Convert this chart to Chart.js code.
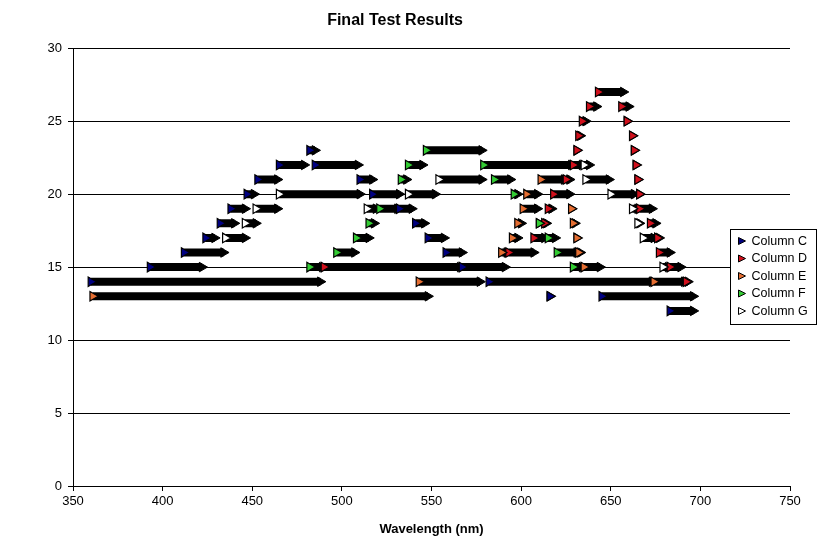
<!DOCTYPE html>
<html lang="en">

<head>
  <meta charset="UTF-8">
  <title>Final Test Results</title>
  <style>
    body { margin: 0; background: #fff; }
  </style>
</head>

<body>
  <canvas id="chart" width="818" height="549"></canvas>

  <script src="https://cdn.jsdelivr.net/npm/chart.js@4/dist/chart.umd.min.js"></script>

  <script>
    // each run: [level, first wavelength, last wavelength]
    const columnC = [
      [23, 482, 485],
      [22, 465, 479], [22, 485, 509],
      [21, 453, 464], [21, 510, 517],
      [20, 447, 451], [20, 517, 532],
      [19, 438, 446], [19, 532, 539],
      [18, 432, 440], [18, 541, 546],
      [17, 424, 429], [17, 548, 557],
      [16, 412, 434], [16, 558, 567],
      [15, 393, 422], [15, 567, 591],
      [14, 360, 488], [14, 582, 673],
      [13, 616, 616], [13, 645, 696],
      [12, 683, 696]
    ]
    const columnD = [
      [27, 643, 657],
      [26, 638, 642], [26, 656, 660],
      [25, 634, 636], [25, 659, 659],
      [24, 632, 633], [24, 662, 662],
      [23, 631, 631], [23, 663, 663],
      [22, 629, 634], [22, 664, 664],
      [21, 625, 627], [21, 665, 665],
      [20, 618, 627], [20, 666, 666],
      [19, 615, 617], [19, 666, 673],
      [18, 613, 614], [18, 672, 675],
      [17, 607, 613], [17, 676, 677],
      [16, 593, 607], [16, 677, 683],
      [15, 490, 566], [15, 683, 689],
      [14, 692, 693]
    ]
    const columnE = [
      [21, 611, 624],
      [20, 603, 609],
      [19, 601, 609], [19, 628, 628],
      [18, 598, 600], [18, 629, 630],
      [17, 595, 598], [17, 631, 631],
      [16, 589, 592], [16, 632, 633],
      [15, 635, 644],
      [14, 543, 577], [14, 674, 691],
      [13, 361, 548]
    ]
    const columnF = [
      [23, 547, 578],
      [22, 537, 545], [22, 579, 628],
      [21, 533, 536], [21, 585, 594],
      [20, 596, 598],
      [19, 521, 531],
      [18, 515, 518], [18, 610, 610],
      [17, 508, 515], [17, 615, 619],
      [16, 497, 507], [16, 620, 631],
      [15, 482, 489], [15, 629, 634]
    ]
    const columnG = [
      [22, 635, 638],
      [21, 554, 578], [21, 636, 649],
      [20, 465, 510], [20, 537, 552], [20, 650, 663],
      [19, 452, 464], [19, 514, 519], [19, 662, 665],
      [18, 446, 452], [18, 665, 666],
      [17, 435, 446], [17, 668, 674],
      [15, 679, 682]
    ]

    const seriesNames = ['Column C', 'Column D', 'Column E', 'Column F', 'Column G']
    const seriesColors = ['#000080', '#D0101C', '#E56E32', '#33CC33', '#FFFFFF']
    const xTicks = [350, 400, 450, 500, 550, 600, 650, 700, 750]
    const yTicks = [0, 5, 10, 15, 20, 25, 30]

    Chart.defaults.font.family = '"Liberation Sans", Arial, sans-serif'
    Chart.defaults.color = '#000'

    const allRuns = [columnC, columnD, columnE, columnF, columnG]
    const datasets = []
    allRuns.forEach((runs, i) => {
      const bar = []
      const heads = []
      for (const [y, from, to] of runs) {
        bar.push({ x: from, y }, { x: to, y }, { x: to, y: null })
        heads.push({ x: from, y })
      }
      // black body with the arrow tip at the last point
      datasets.push({
        label: seriesNames[i] + ' bar',
        data: bar,
        showLine: true,
        spanGaps: false,
        borderColor: '#000',
        borderWidth: 8,
        borderCapStyle: 'butt',
        pointStyle: 'triangle',
        pointRotation: 90,
        pointRadius: c => (c.dataIndex % 3 === 1 ? 5.5 : 0),
        pointBackgroundColor: '#000',
        pointBorderColor: '#000',
        pointBorderWidth: 1,
        order: 10
      })
      // coloured marker at the start of each run
      datasets.push({
        label: seriesNames[i],
        data: heads,
        showLine: false,
        pointStyle: 'triangle',
        pointRotation: 90,
        pointRadius: 5.5,
        pointBackgroundColor: seriesColors[i],
        pointBorderColor: '#000',
        pointBorderWidth: 1.2,
        order: 5 - i
      })
    })

    const boxLegend = {
      id: 'boxLegend',
      afterDraw(chart) {
        const ctx = chart.ctx
        ctx.save()
        ctx.fillStyle = '#fff'
        ctx.strokeStyle = '#000'
        ctx.lineWidth = 1
        ctx.fillRect(730.5, 229.5, 86, 95)
        ctx.strokeRect(730.5, 229.5, 86, 95)
        seriesNames.forEach((name, i) => {
          const y = 241 + i * 17.5
          ctx.beginPath()
          ctx.moveTo(745.5, y)
          ctx.lineTo(738.5, y - 3.5)
          ctx.lineTo(738.5, y + 3.5)
          ctx.closePath()
          ctx.fillStyle = seriesColors[i]
          ctx.fill()
          ctx.strokeStyle = '#000'
          ctx.stroke()
          ctx.fillStyle = '#000'
          ctx.font = '12.5px "Liberation Sans", Arial, sans-serif'
          ctx.textBaseline = 'middle'
          ctx.textAlign = 'left'
          ctx.fillText(name, 751.5, y + 0.5)
        })
        ctx.restore()
      }
    }

    new Chart(document.getElementById('chart'), {
      type: 'scatter',
      data: { datasets },
      plugins: [boxLegend],
      options: {
        responsive: false,
        animation: false,
        events: [],
        layout: { padding: { left: 0, right: 28, top: 0, bottom: 0 } },
        plugins: {
          legend: { display: false },
          tooltip: { enabled: false },
          title: {
            display: true,
            text: 'Final Test Results',
            color: '#000',
            font: { size: 16, weight: 'bold' },
            padding: { top: 11, bottom: 18 }
          }
        },
        scales: {
          x: {
            type: 'linear',
            min: xTicks[0],
            max: xTicks[xTicks.length - 1],
            afterBuildTicks: s => { s.ticks = xTicks.map(v => ({ value: v })) },
            afterFit: s => { s.height = 63 },
            ticks: { font: { size: 13 }, padding: 3, maxRotation: 0 },
            grid: { drawOnChartArea: false, drawTicks: true, tickLength: 5, color: '#000' },
            border: { color: '#000', width: 1 },
            title: {
              display: true,
              text: 'Wavelength (nm)',
              font: { size: 13, weight: 'bold' },
              padding: { top: 0, bottom: 12 }
            }
          },
          y: {
            min: yTicks[0],
            max: yTicks[yTicks.length - 1],
            afterBuildTicks: s => { s.ticks = yTicks.map(v => ({ value: v })) },
            afterFit: s => { s.width = 73 },
            ticks: { font: { size: 13 }, padding: 6 },
            grid: { color: '#000', tickLength: 5 },
            border: { color: '#000', width: 1 }
          }
        }
      }
    })
  </script>
</body>

</html>
